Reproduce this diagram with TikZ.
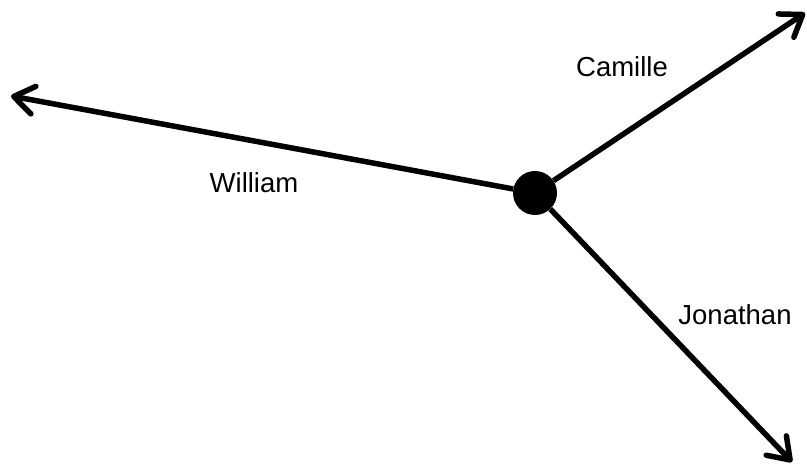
\documentclass[tikz,border=0pt]{standalone}
\usepackage{fontspec}
\setmainfont{Liberation Sans}
\usetikzlibrary{arrows.meta}
\begin{document}
\begin{tikzpicture}[x=1pt,y=1pt,
  edge/.style={line width=5.5pt,-{Straight Barb[length=20pt,width=28pt,round]}},
  lbl/.style={anchor=base,font=\fontsize{27.5}{32}\selectfont,inner sep=0pt}]
\useasboundingbox (0,0) rectangle (807,466);
\node[circle,fill=black,minimum size=44pt,inner sep=0pt] (c) at (535,273) {};
\coordinate (tl) at (11,370);
\coordinate (tr) at (805,453);
\coordinate (br) at (792,4);
\draw[edge] (c) -- (tl);
\draw[edge] (c) -- (tr);
\draw[edge] (c) -- (br);
\node[lbl] (camille) at (622,389) {Camille};
\node[lbl] (william) at (254,273) {William};
\node[lbl] (jonathan) at (735,141) {Jonathan};
\end{tikzpicture}
\end{document}
